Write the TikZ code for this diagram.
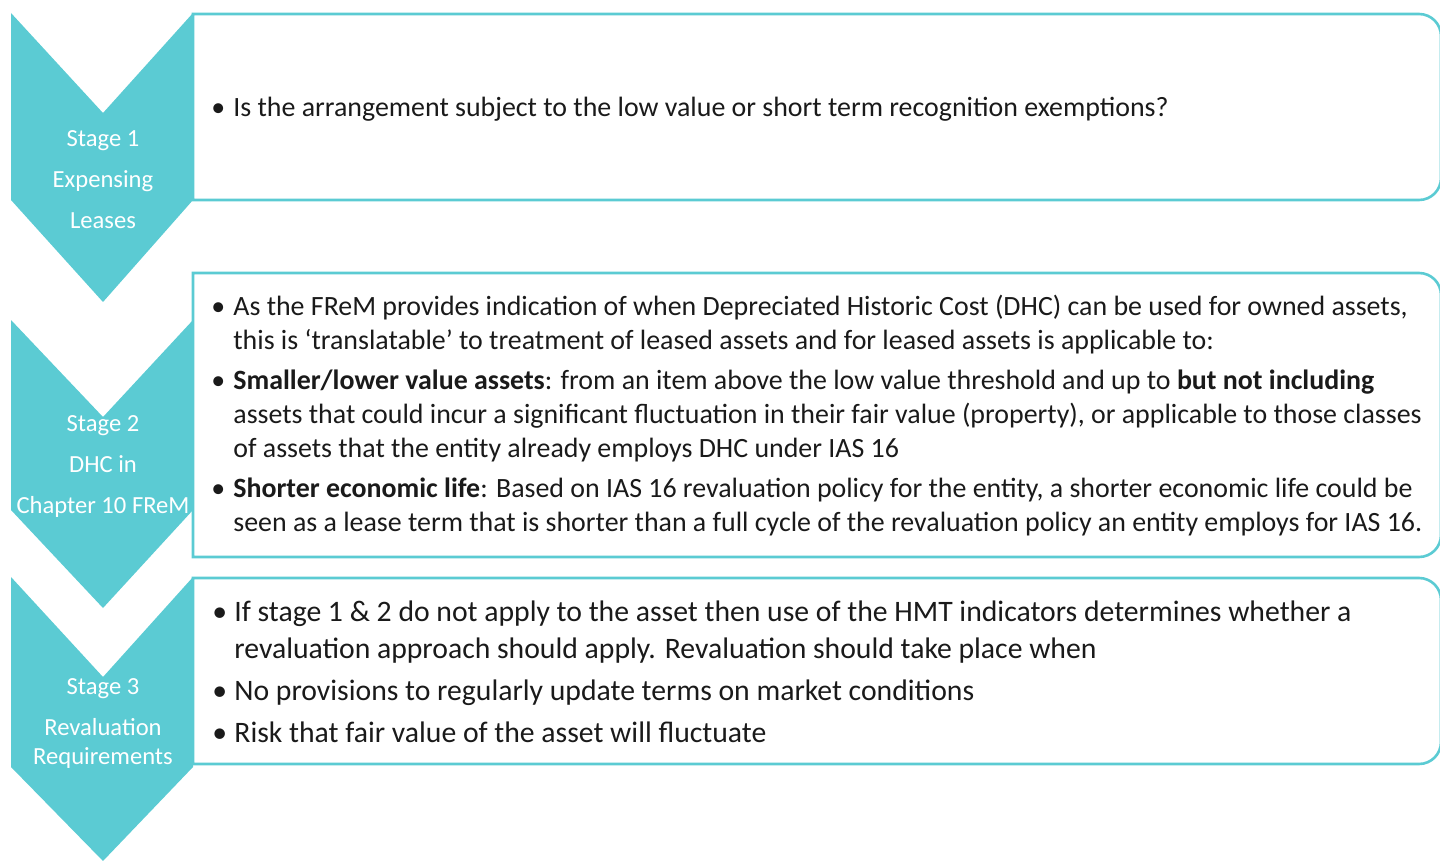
\documentclass[tikz,border=0pt]{standalone}
\usepackage{fontspec}
\setmainfont{Carlito}
\usepackage{tikz}
\usetikzlibrary{positioning}

\definecolor{tealfill}{RGB}{91,203,211}
\definecolor{ink}{RGB}{26,26,26}
\newcommand{\bul}{\makebox[11pt][l]{\textbullet}}
\newcommand{\hang}{\hspace*{11pt}}

\begin{document}
\begin{tikzpicture}[x=0.5pt, y=-0.5pt,
        chevron/.style={fill=tealfill, draw=none},
        panel/.style={draw=tealfill, line width=1.3pt, fill=white},
        stagetext/.style={text=white, align=center, inner sep=0pt, font=\fontsize{12.3}{20.5}\selectfont},
        bullets/.style={text=ink, align=left, anchor=west, inner sep=0pt}
      ]
        \useasboundingbox (0,0) rectangle (1440,861);

        % chevrons
        \fill[chevron] (11,13)  -- (103,113) -- (193,13)  -- (193,200) -- (103,302) -- (11,200) -- cycle;
        \fill[chevron] (11,320) -- (103,417) -- (193,320) -- (193,510) -- (103,608) -- (11,510) -- cycle;
        \fill[chevron] (11,577) -- (103,677) -- (193,577) -- (193,767) -- (103,861) -- (11,767) -- cycle;

        % panels, rounded on the right only
        \draw[panel] (193,14)  -- (1419,14)  arc[start angle=-90, end angle=0, radius=22] -- (1441,178) arc[start angle=0, end angle=90, radius=22] -- (193,200) -- cycle;
        \draw[panel] (193,273) -- (1419,273) arc[start angle=-90, end angle=0, radius=22] -- (1441,535) arc[start angle=0, end angle=90, radius=22] -- (193,557) -- cycle;
        \draw[panel] (193,578) -- (1419,578) arc[start angle=-90, end angle=0, radius=22] -- (1441,742) arc[start angle=0, end angle=90, radius=22] -- (193,764) -- cycle;

        \node[stagetext] (stage1) at (103,179.5) {Stage 1\\Expensing\\Leases};
        \node[stagetext] (stage2) at (103,466) {Stage 2\\DHC in\\Chapter 10 FReM};
        \node[stagetext, font=\fontsize{12.3}{14.5}\selectfont] (stage3) at (103,723) {Stage 3\\[6pt]Revaluation\\Requirements};

        \node[bullets, font=\fontsize{13.95}{17}\selectfont] (text1) at (211,109)
          {\bul Is the arrangement subject to the low value or short term recognition exemptions?};

        \node[bullets, font=\fontsize{13.95}{17}\selectfont] (text2) at (211,416)
          {\bul As the FReM provides indication of when Depreciated Historic Cost (DHC) can be used for owned assets,\\
           \hang this is ‘translatable’ to treatment of leased assets and for leased assets is applicable to:\\[3pt]
           \bul \textbf{Smaller/lower value assets}: from an item above the low value threshold and up to \textbf{but not including}\\
           \hang assets that could incur a significant fluctuation in their fair value (property), or applicable to those classes\\
           \hang of assets that the entity already employs DHC under IAS 16\\[3pt]
           \bul \textbf{Shorter economic life}: Based on IAS 16 revaluation policy for the entity, a shorter economic life could be\\
           \hang seen as a lease term that is shorter than a full cycle of the revaluation policy an entity employs for IAS 16.};

        \node[bullets, font=\fontsize{14.85}{18.5}\selectfont] (text3) at (212,672)
          {\bul If stage 1 \& 2 do not apply to the asset then use of the HMT indicators determines whether a\\
           \hang revaluation approach should apply. Revaluation should take place when\\[2.5pt]
           \bul No provisions to regularly update terms on market conditions\\[2.5pt]
           \bul Risk that fair value of the asset will fluctuate};
      \end{tikzpicture}
\end{document}
